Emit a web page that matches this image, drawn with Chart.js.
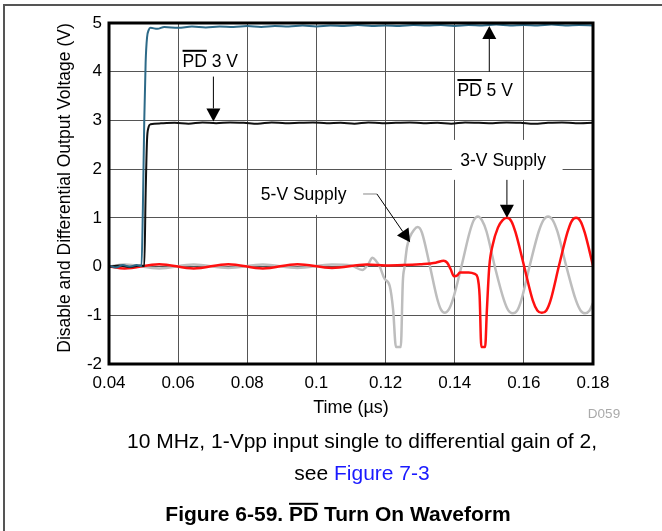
<!DOCTYPE html>
<html>
<head>
<meta charset="utf-8">
<script src="https://cdn.jsdelivr.net/npm/chart.js@4.4.1/dist/chart.umd.min.js"></script>
<style>
html, body { margin: 0; padding: 0; background: #fff; }
canvas { display: block; }
</style>
</head>
<body>
<canvas id="waveChart" width="662" height="531"></canvas>
<script>
// tick labels
const xTicks = [0.04, 0.06, 0.08, 0.1, 0.12, 0.14, 0.16, 0.18];
const yTicks = [-2, -1, 0, 1, 2, 3, 4, 5];

// PD 5 V trace (us, V)
const blueT = [0.040, 0.042, 0.044, 0.046, 0.048, 0.0494, 0.0498, 0.0502, 0.0506, 0.0510, 0.0515, 0.052, 0.054, 0.056, 0.060, 0.064, 0.068, 0.072, 0.076, 0.080, 0.084, 0.088, 0.092, 0.096, 0.100, 0.104, 0.108, 0.112, 0.116, 0.120, 0.124, 0.128, 0.132, 0.136, 0.140, 0.144, 0.148, 0.152, 0.156, 0.160, 0.164, 0.168, 0.172, 0.176, 0.180];
const blueV = [0.02, -0.02, 0.03, 0.00, 0.03, 0.01, 1.2, 3.0, 4.2, 4.7, 4.86, 4.90, 4.88, 4.92, 4.90, 4.93, 4.91, 4.93, 4.92, 4.94, 4.92, 4.94, 4.93, 4.95, 4.93, 4.95, 4.94, 4.96, 4.94, 4.95, 4.94, 4.96, 4.95, 4.96, 4.94, 4.96, 4.95, 4.97, 4.95, 4.96, 4.95, 4.97, 4.95, 4.96, 4.95];

// PD 3 V trace
const blackT = [0.040, 0.043, 0.046, 0.049, 0.0502, 0.0506, 0.0510, 0.0514, 0.052, 0.055, 0.059, 0.063, 0.067, 0.071, 0.075, 0.079, 0.083, 0.087, 0.091, 0.095, 0.099, 0.103, 0.107, 0.111, 0.115, 0.119, 0.123, 0.127, 0.131, 0.135, 0.139, 0.143, 0.147, 0.151, 0.155, 0.159, 0.163, 0.167, 0.171, 0.175, 0.180];
const blackV = [0.00, 0.02, -0.01, 0.02, 0.01, 1.5, 2.6, 2.85, 2.92, 2.94, 2.95, 2.93, 2.96, 2.94, 2.96, 2.95, 2.93, 2.96, 2.94, 2.95, 2.96, 2.94, 2.95, 2.93, 2.96, 2.94, 2.95, 2.96, 2.94, 2.95, 2.93, 2.96, 2.95, 2.94, 2.96, 2.95, 2.93, 2.95, 2.96, 2.94, 2.95];

// 3-V supply output
const redT = [0.040, 0.0445, 0.0545, 0.0645, 0.0745, 0.0845, 0.0945, 0.1045, 0.1145, 0.120, 0.125, 0.130, 0.1345, 0.1368, 0.1378, 0.1388, 0.1398, 0.1408, 0.1415, 0.1440, 0.1458, 0.1466, 0.1472, 0.1477, 0.1488, 0.1493, 0.1500, 0.1510, 0.1525, 0.1538, 0.1551, 0.1564, 0.1576, 0.1601, 0.1626, 0.1639, 0.1652, 0.1665, 0.1677, 0.1701, 0.1726, 0.1738, 0.1751, 0.1764, 0.1776, 0.1800];
const redV = [0.00, -0.04, 0.05, -0.04, 0.05, -0.04, 0.05, -0.03, 0.04, 0.02, 0.03, 0.05, 0.08, 0.12, 0.08, -0.05, -0.2, -0.18, -0.12, -0.12, -0.15, -0.22, -0.6, -1.65, -1.65, -0.9, 0.0, 0.45, 0.8, 0.95, 1.0, 0.93, 0.7, 0.0, -0.7, -0.9, -0.95, -0.9, -0.7, 0.0, 0.7, 0.93, 1.0, 0.93, 0.7, 0.02];

// 5-V supply output
const grayT = [0.040, 0.0445, 0.0545, 0.0645, 0.0745, 0.0845, 0.0945, 0.1045, 0.110, 0.1133, 0.1150, 0.1162, 0.1172, 0.1183, 0.1197, 0.1212, 0.1222, 0.1230, 0.1244, 0.1250, 0.1255, 0.1262, 0.1270, 0.1282, 0.1293, 0.1305, 0.1327, 0.1349, 0.1360, 0.1371, 0.1383, 0.1395, 0.1420, 0.1443, 0.1455, 0.1467, 0.1479, 0.1492, 0.1516, 0.1542, 0.1555, 0.1568, 0.1581, 0.1593, 0.1617, 0.1643, 0.1657, 0.1670, 0.1683, 0.1697, 0.1723, 0.1750, 0.1764, 0.1777, 0.1790, 0.1800];
const grayV = [0.00, 0.04, -0.04, 0.04, -0.03, 0.04, -0.03, 0.04, 0.02, -0.07, 0.05, 0.18, 0.12, 0.0, -0.25, -0.4, -0.9, -1.65, -1.65, -0.3, 0.0, 0.4, 0.6, 0.75, 0.81, 0.7, 0.05, -0.65, -0.88, -0.95, -0.88, -0.67, 0.02, 0.7, 0.95, 1.03, 0.95, 0.72, 0.0, -0.68, -0.9, -0.96, -0.9, -0.68, 0.02, 0.72, 0.96, 1.03, 0.96, 0.72, 0.0, -0.68, -0.9, -0.96, -0.9, -0.75];

const FONT = "'Liberation Sans', Arial, Helvetica, sans-serif";

function toPoints(ts, vs) {
    return ts.map((t, i) => ({ x: t, y: vs[i] }));
}

function arrow(ctx, x1, y1, x2, y2) {
    const a = Math.atan2(y2 - y1, x2 - x1);
    const L = 13, W = 7;
    const bx = x2 - L * Math.cos(a), by = y2 - L * Math.sin(a);
    ctx.beginPath();
    ctx.moveTo(x1, y1);
    ctx.lineTo(bx, by);
    ctx.stroke();
    ctx.beginPath();
    ctx.moveTo(x2, y2);
    ctx.lineTo(bx + W * Math.sin(a), by - W * Math.cos(a));
    ctx.lineTo(bx - W * Math.sin(a), by + W * Math.cos(a));
    ctx.closePath();
    ctx.fill();
}

// text centered at cx, with an overline over the "PD" at the start
function pdLabel(ctx, text, cx, cy, font) {
    ctx.font = font;
    ctx.textAlign = 'left';
    ctx.textBaseline = 'middle';
    const w = ctx.measureText(text).width;
    const left = cx - w / 2;
    ctx.fillText(text, left, cy);
    const pw = ctx.measureText('PD').width;
    const m = ctx.measureText('P');
    const top = cy - m.actualBoundingBoxAscent - 3;
    ctx.fillRect(left, top - 1, pw, 2);
}

const decorPlugin = {
    id: 'decor',
    beforeDatasetsDraw(chart) {
        const { ctx, scales: { x, y } } = chart;
        ctx.save();
        ctx.fillStyle = '#fff';
        // white boxes behind the labels hide the grid
        const boxes = [
            [0.1392, 0.1712, 2.6, 1.78],
            [0.0822, 0.1126, 1.88, 1.06],
            [0.1440, 0.1530, 3.9, 3.42]
        ];
        boxes.forEach(b => {
            const x1 = x.getPixelForValue(b[0]), x2 = x.getPixelForValue(b[1]);
            const y1 = y.getPixelForValue(b[2]), y2 = y.getPixelForValue(b[3]);
            ctx.fillRect(x1, y1, x2 - x1, y2 - y1);
        });
        ctx.restore();
    },
    afterDatasetsDraw(chart) {
        const { ctx, chartArea: a, scales: { x, y } } = chart;
        ctx.save();
        ctx.fillStyle = '#000';
        ctx.strokeStyle = '#000';
        ctx.lineWidth = 1;
        const lf = '17.5px ' + FONT;

        pdLabel(ctx, 'PD 3 V', x.getPixelForValue(0.0693), y.getPixelForValue(4.2), lf);
        arrow(ctx, x.getPixelForValue(0.0702), y.getPixelForValue(3.9), x.getPixelForValue(0.0702), y.getPixelForValue(2.98));

        pdLabel(ctx, 'PD 5 V', x.getPixelForValue(0.1488), y.getPixelForValue(3.6), lf);
        arrow(ctx, x.getPixelForValue(0.1500), y.getPixelForValue(4.0), x.getPixelForValue(0.1500), y.getPixelForValue(4.94));

        ctx.font = lf;
        ctx.textAlign = 'center';
        ctx.textBaseline = 'middle';
        ctx.fillText('3-V Supply', x.getPixelForValue(0.1540), y.getPixelForValue(2.17));
        arrow(ctx, x.getPixelForValue(0.1551), y.getPixelForValue(1.78), x.getPixelForValue(0.1551), y.getPixelForValue(1.0));

        ctx.fillText('5-V Supply', x.getPixelForValue(0.0963), y.getPixelForValue(1.47));
        ctx.strokeStyle = '#888';
        ctx.beginPath();
        ctx.moveTo(x.getPixelForValue(0.1135), y.getPixelForValue(1.49));
        ctx.lineTo(x.getPixelForValue(0.1175), y.getPixelForValue(1.49));
        ctx.stroke();
        ctx.strokeStyle = '#000';
        arrow(ctx, x.getPixelForValue(0.1175), y.getPixelForValue(1.49), x.getPixelForValue(0.1271), y.getPixelForValue(0.5));

        // plot frame
        ctx.lineWidth = 3;
        ctx.strokeRect(a.left, a.top, a.right - a.left, a.bottom - a.top);
        ctx.restore();
    },
    afterDraw(chart) {
        const { ctx, chartArea: a } = chart;
        ctx.save();
        // page frame
        ctx.fillStyle = '#555';
        ctx.fillRect(3, 4, 659, 2);
        ctx.fillRect(3, 4, 2, 527);

        ctx.fillStyle = '#000';
        ctx.textAlign = 'center';
        ctx.textBaseline = 'middle';
        ctx.font = '18px ' + FONT;
        ctx.fillText('Time (\u00b5s)', (a.left + a.right) / 2, 408);

        ctx.save();
        ctx.translate(65, 188);
        ctx.rotate(-Math.PI / 2);
        ctx.font = '17.5px ' + FONT;
        ctx.fillText('Disable and Differential Output Voltage (V)', 0, 0);
        ctx.restore();

        ctx.fillStyle = '#aaa';
        ctx.font = '13.5px ' + FONT;
        ctx.fillText('D059', 604, 414);

        ctx.fillStyle = '#000';
        ctx.font = '21px ' + FONT;
        ctx.fillText('10 MHz, 1-Vpp input single to differential gain of 2,', 362, 442);

        const s1 = 'see ', s2 = 'Figure 7-3';
        const w1 = ctx.measureText(s1).width, w2 = ctx.measureText(s2).width;
        const left = 362 - (w1 + w2) / 2;
        ctx.textAlign = 'left';
        ctx.fillText(s1, left, 474);
        ctx.fillStyle = '#1a1aff';
        ctx.fillText(s2, left + w1, 474);

        ctx.fillStyle = '#000';
        const tf = 'bold 21px ' + FONT;
        ctx.font = tf;
        const t1 = 'Figure 6-59. ', t2 = 'PD', t3 = ' Turn On Waveform';
        const tw = ctx.measureText(t1 + t2 + t3).width;
        const tl = 338 - tw / 2;
        ctx.fillText(t1 + t2 + t3, tl, 515);
        const ox = tl + ctx.measureText(t1).width;
        const ow = ctx.measureText(t2).width;
        const asc = ctx.measureText('P').actualBoundingBoxAscent;
        ctx.fillRect(ox, 515 - asc - 4, ow, 2);
        ctx.restore();
    }
};

const ctx = document.getElementById('waveChart').getContext('2d');

const waveChart = new Chart(ctx, {
    type: 'line',
    data: {
        datasets: [
            { label: 'PD 5 V', data: toPoints(blueT, blueV), borderColor: '#2d6a88', borderWidth: 2 },
            { label: 'PD 3 V', data: toPoints(blackT, blackV), borderColor: '#111', borderWidth: 2 },
            { label: '3-V Supply', data: toPoints(redT, redV), borderColor: '#ff1010', borderWidth: 2.5 },
            { label: '5-V Supply', data: toPoints(grayT, grayV), borderColor: '#bdbdbd', borderWidth: 2.5 }
        ]
    },
    options: {
        responsive: false,
        animation: false,
        devicePixelRatio: 1,
        layout: { padding: { left: 0, top: 23, right: 69, bottom: 0 } },
        elements: {
            point: { radius: 0 },
            line: { cubicInterpolationMode: 'monotone', fill: false }
        },
        plugins: {
            legend: { display: false },
            tooltip: { enabled: false }
        },
        scales: {
            x: {
                type: 'linear',
                min: 0.04,
                max: 0.18,
                afterFit: s => { s.height = 167; },
                afterBuildTicks: s => { s.ticks = xTicks.map(v => ({ value: v })); },
                ticks: {
                    color: '#000',
                    font: { family: FONT, size: 17 },
                    padding: 9,
                    maxRotation: 0,
                    callback: v => String(v)
                },
                grid: { color: '#555', lineWidth: 1, drawTicks: false },
                border: { display: false }
            },
            y: {
                min: -2,
                max: 5,
                afterFit: s => { s.width = 109; },
                afterBuildTicks: s => { s.ticks = yTicks.map(v => ({ value: v })); },
                ticks: {
                    color: '#000',
                    font: { family: FONT, size: 17 },
                    padding: 7,
                    callback: v => String(v)
                },
                grid: { color: '#555', lineWidth: 1, drawTicks: false },
                border: { display: false }
            }
        }
    },
    plugins: [decorPlugin]
});
</script>
</body>
</html>
